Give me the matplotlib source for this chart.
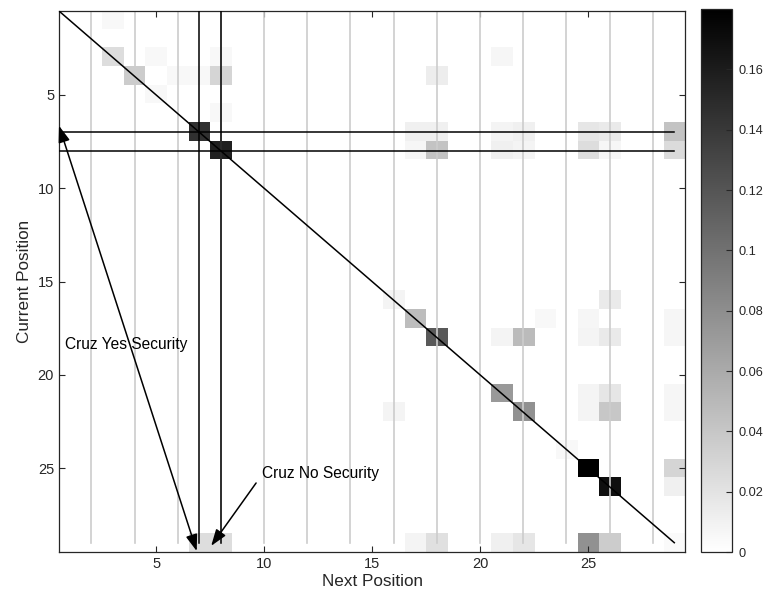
import numpy as np
import matplotlib
matplotlib.use("Agg")
import matplotlib.pyplot as plt

plt.rcParams['font.family'] = ['Liberation Sans', 'DejaVu Sans']

# transition probabilities, sparse: (current position, next position, value)
n_pos = 29
cur_pos = [1, 3, 3, 3, 3, 4, 4, 4, 4, 4, 5, 6,
           7, 7, 7, 7, 7, 7, 7, 7,
           8, 8, 8, 8, 8, 8, 8, 8,
           16, 16, 17, 17, 17, 17,
           18, 18, 18, 18, 18, 18, 18,
           21, 21, 21, 21, 22, 22, 22, 22, 22,
           24, 25, 25, 26, 26,
           29, 29, 29, 29, 29, 29, 29, 29, 29]
next_pos = [3, 3, 5, 8, 21, 4, 6, 7, 8, 18, 5, 8,
            7, 17, 18, 21, 22, 25, 26, 29,
            8, 17, 18, 21, 22, 25, 26, 29,
            16, 26, 17, 23, 25, 29,
            18, 21, 22, 25, 26, 29, 29,
            21, 25, 26, 29, 16, 22, 25, 26, 29,
            24, 25, 29, 26, 29,
            7, 8, 17, 18, 21, 22, 25, 26, 29]
probs = [0.005, 0.024, 0.005, 0.005, 0.007, 0.036, 0.005, 0.005, 0.030, 0.013, 0.005, 0.005,
         0.146, 0.011, 0.011, 0.008, 0.011, 0.018, 0.015, 0.042,
         0.157, 0.007, 0.042, 0.011, 0.008, 0.024, 0.007, 0.026,
         0.008, 0.015, 0.047, 0.005, 0.007, 0.007,
         0.117, 0.008, 0.048, 0.008, 0.015, 0.007, 0.007,
         0.072, 0.008, 0.018, 0.007, 0.008, 0.078, 0.008, 0.040, 0.007,
         0.005, 0.179, 0.030, 0.169, 0.011,
         0.024, 0.024, 0.008, 0.022, 0.011, 0.018, 0.078, 0.036, 0.004]

grid_x = list(range(2, 29, 2))
marked_pos = [7, 8]

yes_arrow = [(0.5, 6.65), (6.88, 29.45)]
no_arrow_start = (9.63, 25.8)
no_arrow_tip = (7.55, 29.17)

cbar_ticks = [0, 0.02, 0.04, 0.06, 0.08, 0.1, 0.12, 0.14, 0.16]
cbar_labels = ['0', '0.02', '0.04', '0.06', '0.08', '0.1', '0.12', '0.14', '0.16']

M = np.zeros((n_pos, n_pos))
for r, c, v in zip(cur_pos, next_pos, probs):
    M[r - 1, c - 1] = v

fig = plt.figure(figsize=(7.67, 5.98), dpi=100)
ax = fig.add_axes([0.0769, 0.0769, 0.8163, 0.9047])
cax = fig.add_axes([0.914, 0.0769, 0.040, 0.9080])

im = ax.imshow(M, cmap='gray_r', vmin=0, vmax=0.18, aspect='auto',
               interpolation='nearest', extent=(0.5, n_pos + 0.5, n_pos + 0.5, 0.5))

for gx in grid_x:
    ax.plot([gx, gx], [0.5, 29], color='#cccccc', lw=1.2, zorder=2)
for p in marked_pos:
    ax.plot([p, p], [0.5, 29], color='k', lw=1.1, zorder=3)
    ax.plot([0.5, 29], [p, p], color='k', lw=1.1, zorder=3)
ax.plot([0.5, 29], [0.5, 29], color='k', lw=1.1, zorder=3)

head = 'head_length=1.0,head_width=0.35'
ax.annotate('', xy=yes_arrow[0], xytext=yes_arrow[1],
            arrowprops=dict(arrowstyle='<|-|>,' + head, color='k', lw=1.1, mutation_scale=10,
                            shrinkA=0, shrinkB=0), zorder=4, annotation_clip=False)
ax.text(0.8, 18.36, 'Cruz Yes Security', fontsize=11.2, va='center', ha='left', zorder=5)
ax.annotate('', xy=no_arrow_tip, xytext=no_arrow_start,
            arrowprops=dict(arrowstyle='-|>,' + head, color='k', lw=1.1, mutation_scale=10,
                            shrinkA=0, shrinkB=0), zorder=4, annotation_clip=False)
ax.text(9.9, 25.3, 'Cruz No Security', fontsize=11.2, va='center', ha='left', zorder=5)

ax.set_xlim(0.5, n_pos + 0.5)
ax.set_ylim(n_pos + 0.5, 0.5)
ax.set_xticks([5, 10, 15, 20, 25])
ax.set_yticks([5, 10, 15, 20, 25])
ax.tick_params(direction='in', top=True, right=True, length=4, labelsize=10.5,
               colors='#262626', width=0.8)
for s in ax.spines.values():
    s.set_color('#262626')
    s.set_linewidth(0.9)
ax.set_xlabel('Next Position', fontsize=12.3, color='#262626', labelpad=2)
ax.set_ylabel('Current Position', fontsize=12.3, color='#262626', labelpad=4)

cb = fig.colorbar(im, cax=cax)
cb.set_ticks(cbar_ticks)
cb.set_ticklabels(cbar_labels)
cax.tick_params(direction='in', length=4, labelsize=9.2, colors='#262626', width=0.8, pad=5)
cb.outline.set_edgecolor('#262626')
cb.outline.set_linewidth(0.9)

fig.savefig('out.png', dpi=100)
